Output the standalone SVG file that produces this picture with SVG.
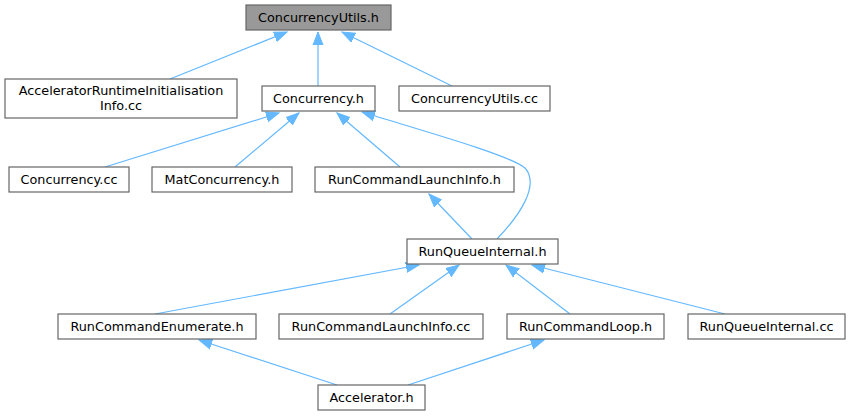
<svg xmlns="http://www.w3.org/2000/svg" width="851" height="417" viewBox="0 0 851 417">
<defs>
<style>
.n rect{fill:#ffffff;stroke:#666666;stroke-width:1.2}
.root rect{fill:#999999}
text{font-family:"DejaVu Sans","Liberation Sans",sans-serif;font-size:12.8px;fill:#000000;text-anchor:middle}
.e path{fill:none;stroke:#63b8ff;stroke-width:1.2}
</style>
<marker id="a" markerUnits="userSpaceOnUse" markerWidth="14" markerHeight="12" viewBox="0 0 14 12" refX="13" refY="6" orient="auto">
<path d="M0,1 L13,6 L0,11 Z" fill="#63b8ff" stroke="#63b8ff"/>
</marker>
</defs>
<rect width="851" height="417" fill="#ffffff"/>
<g class="e">
<path d="M170,79 L287,32" marker-end="url(#a)"/>
<path d="M318,86 L318,32" marker-end="url(#a)"/>
<path d="M452,86 L342,32" marker-end="url(#a)"/>
<path d="M105,167 L279,113" marker-end="url(#a)"/>
<path d="M235,167 L299,113" marker-end="url(#a)"/>
<path d="M400,167 L337,113" marker-end="url(#a)"/>
<path d="M497,239 C520,215 540,185 525,168 C510,155 420,130 362,112" marker-end="url(#a)"/>
<path d="M472,239 L429,194" marker-end="url(#a)"/>
<path d="M155,314 L419,265" marker-end="url(#a)"/>
<path d="M390,314 L459,265" marker-end="url(#a)"/>
<path d="M570,314 L506,265" marker-end="url(#a)"/>
<path d="M725,314 L532,265" marker-end="url(#a)"/>
<path d="M337,385 L199,340" marker-end="url(#a)"/>
<path d="M408,385 L544,340" marker-end="url(#a)"/>
</g>
<g id="n_cutils_h" class="n root"><rect x="246" y="5" width="145" height="25"/><text x="318.5" y="21.8">ConcurrencyUtils.h</text></g>
<g id="n_acc_rt" class="n"><rect x="5" y="79" width="232" height="39"/><text x="121" y="95">AcceleratorRuntimeInitialisation</text><text x="121" y="109.5">Info.cc</text></g>
<g id="n_conc_h" class="n"><rect x="262" y="86" width="113" height="25"/><text x="318.5" y="102.8">Concurrency.h</text></g>
<g id="n_cutils_cc" class="n"><rect x="399" y="86" width="151" height="25"/><text x="474.5" y="102.8">ConcurrencyUtils.cc</text></g>
<g id="n_conc_cc" class="n"><rect x="9" y="167" width="120" height="25"/><text x="69" y="183.8">Concurrency.cc</text></g>
<g id="n_matconc" class="n"><rect x="152" y="167" width="140" height="25"/><text x="222" y="183.8">MatConcurrency.h</text></g>
<g id="n_rcli_h" class="n"><rect x="315" y="167" width="199" height="25"/><text x="414.5" y="183.8">RunCommandLaunchInfo.h</text></g>
<g id="n_rqi_h" class="n"><rect x="407" y="239" width="151" height="25"/><text x="482.5" y="255.8">RunQueueInternal.h</text></g>
<g id="n_rce_h" class="n"><rect x="58" y="314" width="198" height="25"/><text x="157" y="330.8">RunCommandEnumerate.h</text></g>
<g id="n_rcli_cc" class="n"><rect x="279" y="314" width="204" height="25"/><text x="381" y="330.8">RunCommandLaunchInfo.cc</text></g>
<g id="n_rcl_h" class="n"><rect x="507" y="314" width="157" height="25"/><text x="585.5" y="330.8">RunCommandLoop.h</text></g>
<g id="n_rqi_cc" class="n"><rect x="688" y="314" width="157" height="25"/><text x="766.5" y="330.8">RunQueueInternal.cc</text></g>
<g id="n_accel_h" class="n"><rect x="318" y="385" width="107" height="25"/><text x="371.5" y="401.8">Accelerator.h</text></g>
</svg>
